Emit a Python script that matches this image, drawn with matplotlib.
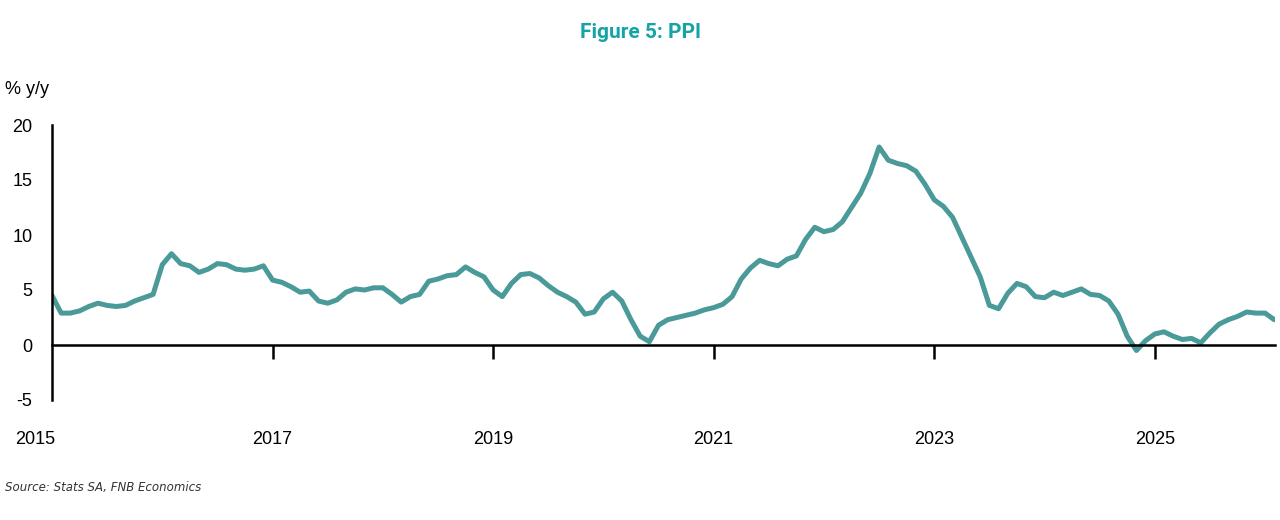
import matplotlib
matplotlib.use("Agg")
import matplotlib.pyplot as plt
import matplotlib.transforms as mtransforms

# monthly PPI % y/y, Jan 2015 onwards
ppi = [4.5, 2.9, 2.9, 3.1, 3.5, 3.8, 3.6, 3.5, 3.6, 4.0, 4.3, 4.6,
       7.3, 8.3, 7.4, 7.2, 6.6, 6.9, 7.4, 7.3, 6.9, 6.8, 6.9, 7.2,
       5.9, 5.7, 5.3, 4.8, 4.9, 4.0, 3.8, 4.1, 4.8, 5.1, 5.0, 5.2,
       5.2, 4.6, 3.9, 4.4, 4.6, 5.8, 6.0, 6.3, 6.4, 7.1, 6.6, 6.2,
       5.0, 4.4, 5.6, 6.4, 6.5, 6.1, 5.4, 4.8, 4.4, 3.9, 2.8, 3.0,
       4.2, 4.8, 4.0, 2.3, 0.8, 0.3, 1.8, 2.3, 2.5, 2.7, 2.9, 3.2,
       3.4, 3.7, 4.4, 6.0, 7.0, 7.7, 7.4, 7.2, 7.8, 8.1, 9.6, 10.7,
       10.3, 10.5, 11.2, 12.5, 13.8, 15.6, 18.0, 16.8, 16.5, 16.3, 15.8, 14.6,
       13.2, 12.6, 11.6, 9.8, 8.0, 6.2, 3.6, 3.3, 4.7, 5.6, 5.3, 4.4,
       4.3, 4.8, 4.5, 4.8, 5.1, 4.6, 4.5, 4.0, 2.8, 0.8, -0.5, 0.4,
       1.0, 1.2, 0.8, 0.5, 0.6, 0.2, 1.1, 1.9, 2.3, 2.6, 3.0, 2.9,
       2.9, 2.3]
months = list(range(len(ppi)))
year_labels = ['2015', '2017', '2019', '2021', '2023', '2025']
yticks = [-5, 0, 5, 10, 15, 20]

fig = plt.figure(figsize=(12.8, 5.2), dpi=100)
ax = fig.add_axes([52/1280, 1-400/520, 1223/1280, 275/520])

ax.plot(months, ppi, color='#4a9a9a', lw=3.6, solid_joinstyle='round', solid_capstyle='round')

ax.set_xlim(0, 1223/9.19)
ax.set_ylim(-5, 20)
for s in ['top', 'right']:
    ax.spines[s].set_visible(False)
ax.spines['bottom'].set_position(('data', 0))
ax.spines['bottom'].set_linewidth(1.8)
ax.spines['left'].set_linewidth(1.8)

ax.set_yticks(yticks)
ax.set_yticklabels([str(v) for v in yticks], fontsize=13, family='Liberation Sans')
ax.tick_params(axis='y', length=0, pad=14)
ax.set_xticks([24, 48, 72, 96, 120])
ax.set_xticklabels([])
ax.tick_params(axis='x', direction='out', length=10, width=1.8)

trans = mtransforms.blended_transform_factory(ax.transData, fig.transFigure)
label_pos = [-1.85, 24, 48, 72, 96, 120]
for x, lab in zip(label_pos, year_labels):
    ax.text(x, 1-440/520, lab, transform=trans, ha='center', va='center',
            fontsize=13, family='Liberation Sans')

fig.text(0.5, 1-33/520, 'Figure 5: PPI', ha='center', va='center',
         fontsize=15, fontweight='bold', color='#14a3a6', family='Roboto')
fig.text(5/1280, 1-90/520, '% y/y', ha='left', va='center', fontsize=13, family='Liberation Sans')
fig.text(5/1280, 1-487/520, 'Source: Stats SA, FNB Economics', ha='left', va='center',
         fontsize=8.5, style='italic', color='#333333')

fig.savefig('out.png', dpi=100)
